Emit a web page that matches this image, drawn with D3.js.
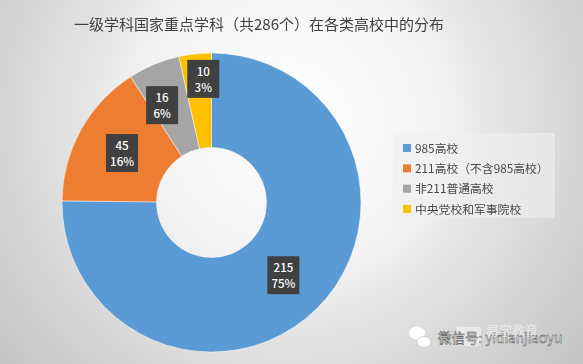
<!DOCTYPE html>
<html>
<head>
<meta charset="utf-8">
<script src="https://cdn.jsdelivr.net/npm/d3@7"></script>
<style>
  html, body { margin: 0; padding: 0; background: #d8d8d8; overflow: hidden; }
  svg { display: block; }
  text { font-family: "Noto Sans CJK SC", "Noto Sans", sans-serif; }
</style>
</head>
<body>
<div id="chart"></div>
<script>
const title = '一级学科国家重点学科（共286个）在各类高校中的分布';
const categories = ['985高校', '211高校（不含985高校）', '非211普通高校', '中央党校和军事院校'];
const counts = [215, 45, 16, 10];
const percents = ['75%', '16%', '6%', '3%'];
const colors = ['#5b9bd5', '#ed7d31', '#a5a5a5', '#ffc000'];

const width = 583, height = 364;
const cx = 211.5, cy = 202.5, outer = 149.5, inner = 55;

const svg = d3.select('#chart').append('svg')
  .attr('width', width)
  .attr('height', height);

let defs = svg.append('defs');
let bg = defs.append('radialGradient')
  .attr('id', 'bg')
  .attr('gradientUnits', 'userSpaceOnUse')
  .attr('cx', 290).attr('cy', 120).attr('r', 380);
bg.append('stop').attr('offset', '0%').attr('stop-color', '#ffffff');
bg.append('stop').attr('offset', '40%').attr('stop-color', '#f3f3f3');
bg.append('stop').attr('offset', '55%').attr('stop-color', '#e4e4e4');
bg.append('stop').attr('offset', '100%').attr('stop-color', '#c4c4c4');

defs.append('filter')
  .attr('id', 'soft')
  .append('feGaussianBlur')
    .attr('stdDeviation', 0.35);

svg.append('rect')
  .attr('width', width)
  .attr('height', height)
  .attr('fill', 'url(#bg)');

svg.append('text')
  .attr('x', 259)
  .attr('y', 30)
  .attr('text-anchor', 'middle')
  .attr('font-size', 15)
  .attr('fill', '#404040')
  .attr('filter', 'url(#soft)')
  .text(title);

const pie = d3.pie().sort(null)(counts);
const arc = d3.arc().innerRadius(inner).outerRadius(outer);

let donut = svg.append('g')
  .attr('transform', `translate(${cx},${cy})`);

donut.selectAll('.slice')
  .data(pie)
  .enter().append('path')
    .attr('class', 'slice')
    .attr('d', arc)
    .attr('fill', (d, i) => colors[i])
    .attr('stroke', '#fff')
    .attr('stroke-opacity', 0.6)
    .attr('stroke-width', 0.8);

// the two small slices had their labels dragged off the centroid
const nudge = [[0, 0], [0, 0], [-10, -3], [3, -22]];

let labels = donut.selectAll('.label')
  .data(pie)
  .enter().append('g')
    .attr('class', 'label')
    .attr('transform', (d, i) => {
      let c = arc.centroid(d);
      return `translate(${c[0] + nudge[i][0]},${c[1] + nudge[i][1]})`;
    });

labels.append('rect')
  .attr('x', -16)
  .attr('y', -19)
  .attr('width', 32)
  .attr('height', 38)
  .attr('fill', '#404040');

labels.append('text')
  .attr('text-anchor', 'middle')
  .attr('y', -3)
  .attr('font-size', 11.5)
  .attr('font-weight', 500)
  .attr('fill', '#fff')
  .text((d, i) => counts[i]);

labels.append('text')
  .attr('text-anchor', 'middle')
  .attr('y', 13)
  .attr('font-size', 11.5)
  .attr('font-weight', 500)
  .attr('fill', '#fff')
  .text((d, i) => percents[i]);

// legend
let legend = svg.append('g')
  .attr('filter', 'url(#soft)');
legend.append('rect')
  .attr('x', 393).attr('y', 133)
  .attr('width', 162).attr('height', 85)
  .attr('fill', '#f0f0f0')
  .attr('opacity', 0.6);

const legendY = d3.scalePoint()
  .domain(categories)
  .range([148, 209]);

let items = legend.selectAll('.item')
  .data(categories)
  .enter().append('g')
    .attr('class', 'item')
    .attr('transform', d => `translate(403,${legendY(d)})`);

items.append('rect')
  .attr('y', -4)
  .attr('width', 8)
  .attr('height', 8)
  .attr('fill', (d, i) => colors[i]);

items.append('text')
  .attr('x', 12)
  .attr('y', 4.5)
  .attr('font-size', 11.8)
  .attr('fill', '#4a4a4a')
  .text(d => d);

// watermark
let mark = svg.append('g');
mark.append('rect')
  .attr('x', 457).attr('y', 327)
  .attr('width', 24).attr('height', 19)
  .attr('fill', '#fff')
  .attr('opacity', 0.45);
mark.append('ellipse')
  .attr('cx', 417).attr('cy', 333).attr('rx', 8).attr('ry', 6.5)
  .attr('fill', '#fff');
mark.append('ellipse')
  .attr('cx', 424).attr('cy', 342).attr('rx', 7).attr('ry', 5.5)
  .attr('fill', '#fff')
  .attr('stroke', '#bbb')
  .attr('stroke-width', 0.6);
mark.append('text')
  .attr('x', 438).attr('y', 343)
  .attr('font-size', 13.5)
  .attr('fill', '#fff')
  .attr('stroke', '#444')
  .attr('stroke-width', 0.45)
  .text('微信号: yidianjiaoyu');
mark.append('text')
  .attr('x', 486).attr('y', 335)
  .attr('font-size', 13)
  .attr('fill', '#fff')
  .attr('opacity', 0.55)
  .text('易学教育');
</script>
</body>
</html>
